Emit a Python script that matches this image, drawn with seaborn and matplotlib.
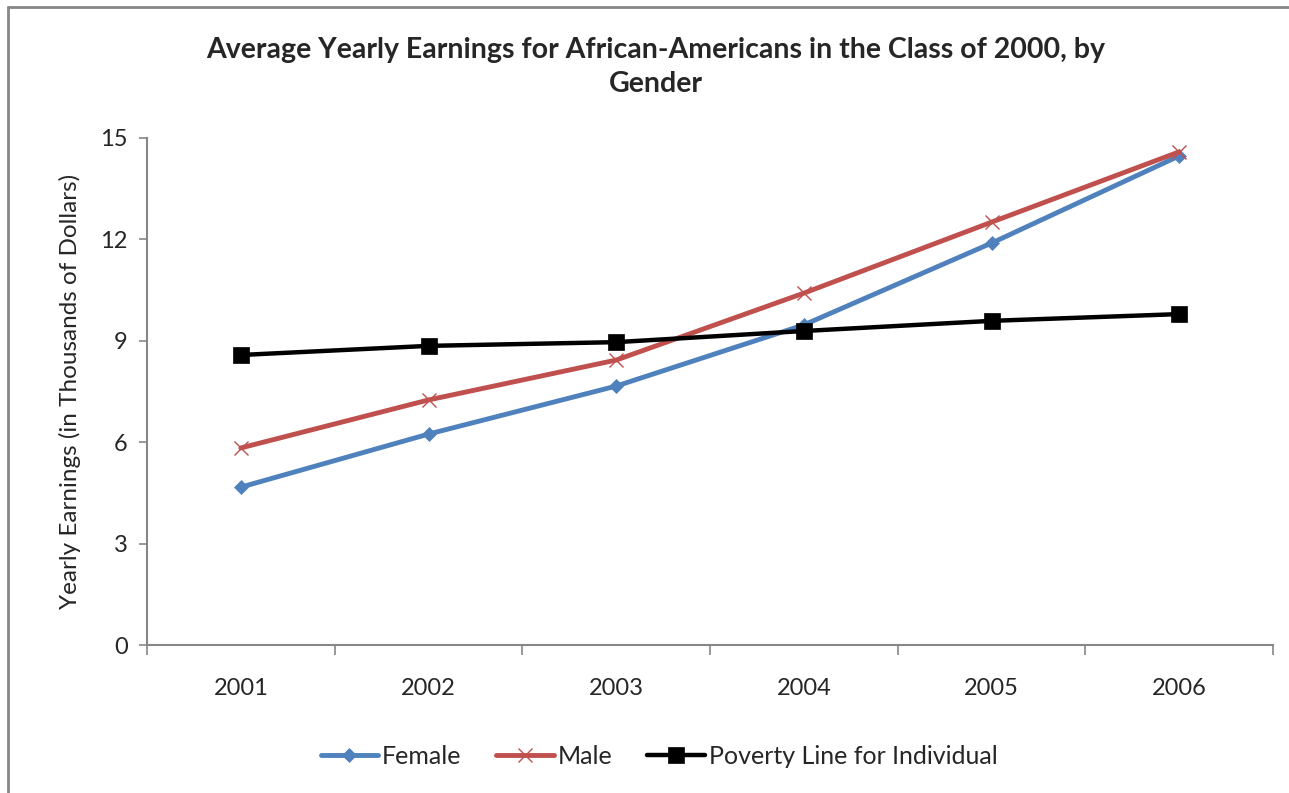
import matplotlib
matplotlib.use("Agg")
import matplotlib.pyplot as plt
import seaborn as sns
import pandas as pd
import numpy as np

years = ["2001", "2002", "2003", "2004", "2005", "2006"]
female = [4.67, 6.24, 7.66, 9.47, 11.89, 14.47]
male = [5.83, 7.25, 8.43, 10.41, 12.51, 14.59]
poverty = [8.58, 8.85, 8.96, 9.29, 9.59, 9.79]
series_names = ["Female", "Male", "Poverty Line for Individual"]
y_ticks = [0, 3, 6, 9, 12, 15]

sns.set_theme(style="white")
plt.rcParams["font.family"] = ["Lato", "DejaVu Sans"]

rows = []
for name, vals in zip(series_names, [female, male, poverty]):
    for i, (yr, v) in enumerate(zip(years, vals)):
        rows.append({"idx": i, "year": yr, "value": v, "series": name})
df = pd.DataFrame(rows)

fig = plt.figure(figsize=(12.89, 7.93), dpi=100)
ax = fig.add_axes([147 / 1289, 1 - 645 / 793, (1273 - 147) / 1289, (645 - 138) / 793])

colors = {"Female": "#4F81BD", "Male": "#C0504D", "Poverty Line for Individual": "#000000"}
markers = {"Female": "D", "Male": "x", "Poverty Line for Individual": "s"}
msize = {"Female": 7, "Male": 10, "Poverty Line for Individual": 11}
lws = {"Female": 3.5, "Male": 3.5, "Poverty Line for Individual": 3.2}

for name in series_names:
    sub = df[df["series"] == name]
    sns.lineplot(data=sub, x="idx", y="value", ax=ax, color=colors[name],
                 marker=markers[name], markersize=msize[name], linewidth=lws[name],
                 markeredgecolor=colors[name], markeredgewidth=1.0 if name == "Male" else 0.5,
                 label=name, legend=False)

ax.set_xlim(-0.5, len(years) - 0.5)
ax.set_ylim(0, 15)
ax.set_yticks(y_ticks)
ax.set_yticklabels([str(t) for t in y_ticks], fontsize=17)
ax.set_xticks(np.arange(-0.5, len(years), 1.0))
ax.set_xticklabels([])
ax.set_xticks(np.arange(len(years)), minor=True)
ax.set_xticklabels(years, minor=True, fontsize=17)
ax.tick_params(axis="x", which="major", direction="out", length=7, width=1.2, color="#868686", bottom=True)
ax.tick_params(axis="x", which="minor", length=0, pad=24)
ax.tick_params(axis="y", direction="out", length=6, width=1.2, color="#868686", left=True, pad=8)
for s in ["top", "right"]:
    ax.spines[s].set_visible(False)
for s in ["left", "bottom"]:
    ax.spines[s].set_color("#868686")
    ax.spines[s].set_linewidth(1.5)
ax.set_xlabel("")
ax.set_ylabel("Yearly Earnings (in Thousands of Dollars)", fontsize=17.5, labelpad=14)

fig.text(656 / 1289, 1 - 67 / 793, "Average Yearly Earnings for African-Americans in the Class of 2000, by\nGender",
         ha="center", va="center", fontsize=20.5, fontweight="bold", linespacing=1.4)

handles, labels = ax.get_legend_handles_labels()
fig.legend(handles, labels, loc="center", bbox_to_anchor=(659 / 1289, 1 - 756 / 793), ncol=3,
           frameon=False, fontsize=18, handlelength=2.3, columnspacing=1.4, handletextpad=0.15)

fig.add_artist(plt.Line2D([8 / 1289, 8 / 1289], [0, 1 - 7 / 793], transform=fig.transFigure, color="#868686", lw=2))
fig.add_artist(plt.Line2D([8 / 1289, 1], [1 - 7 / 793, 1 - 7 / 793], transform=fig.transFigure, color="#868686", lw=2))

fig.savefig("out.png", dpi=100, facecolor="white")
